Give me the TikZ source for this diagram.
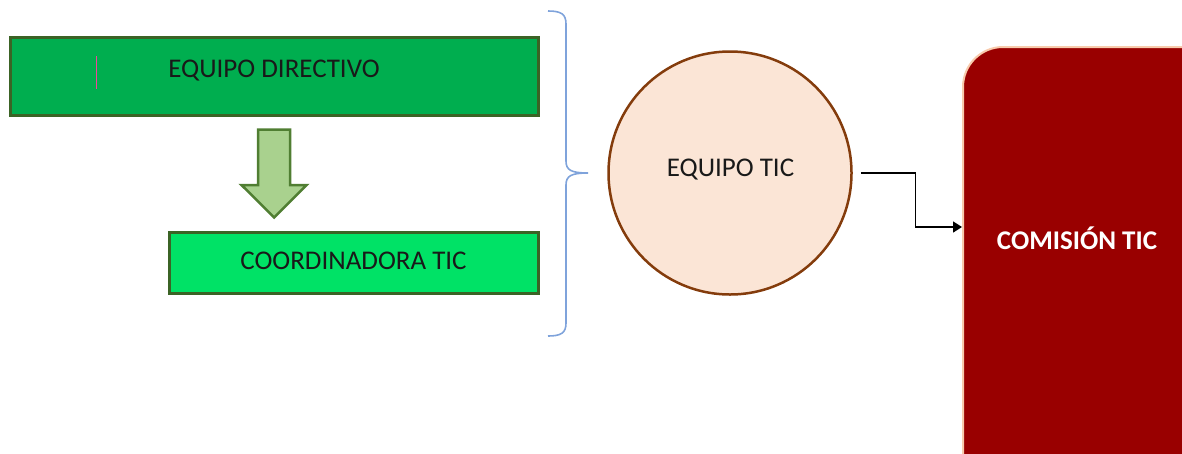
\documentclass[tikz,border=0pt]{standalone}
\usepackage{fontspec}
\setmainfont{Carlito}
\definecolor{gdark}{HTML}{00AE4F}
\definecolor{glight}{HTML}{00E266}
\definecolor{gborder}{HTML}{3B6325}
\definecolor{arrfill}{HTML}{A9D18E}
\definecolor{arrborder}{HTML}{507E32}
\definecolor{circfill}{HTML}{FBE5D6}
\definecolor{circborder}{HTML}{843C0C}
\definecolor{comred}{HTML}{990000}
\definecolor{comborder}{HTML}{F8CBAD}
\definecolor{bracecol}{HTML}{7FA3DB}
\definecolor{pinkmark}{HTML}{F0459A}
\tikzset{
  box/.style={draw=gborder, line width=3pt, inner sep=0pt},
  lbl/.style={anchor=base, inner sep=0pt, text=black!90, font=\fontsize{27}{32}\selectfont},
  conn/.style={draw=black!75, line width=1.5pt, -{Triangle[length=9pt,width=11pt]}, black},
}
\usetikzlibrary{arrows.meta}
\begin{document}
\begin{tikzpicture}[x=1pt,y=-1pt]
\useasboundingbox (0,0) rectangle (1182,453);
% boxes
\node[box, fill=gdark, minimum width=528pt, minimum height=78pt] (dir) at (274,76) {};
\node[lbl] (dirt) at (274,77) {EQUIPO DIRECTIVO};
\draw[pinkmark, line width=1.5pt] (96.5,56) -- (96.5,89);
\node[box, fill=glight, minimum width=369pt, minimum height=61pt] (coord) at (353.5,262.5) {};
\node[lbl] (coordt) at (353.5,269) {COORDINADORA TIC};
% block arrow
\draw[fill=arrfill, draw=arrborder, line width=2.5pt, line join=miter]
  (258,129.5) -- (290,129.5) -- (290,185) -- (306.5,185) -- (274.2,217.5)
  -- (241.5,185) -- (258,185) -- cycle;
% brace
\draw[bracecol, line width=1.6pt]
  (548,11) .. controls (561,11) and (566,14) .. (566,24) -- (566,161)
  .. controls (566,170) and (571,173) .. (588,173)
  .. controls (571,173) and (566,176) .. (566,185) -- (566,323)
  .. controls (566,333) and (561,336) .. (548,336);
% circle
\node[circle, draw=circborder, fill=circfill, line width=2.5pt, minimum size=243pt, inner sep=0pt] (tic) at (730,173) {};
\node[lbl] (tict) at (730.5,176) {EQUIPO TIC};
% comision
\node[draw=comborder, fill=comred, line width=2pt, rounded corners=40pt, minimum width=260pt, minimum height=480pt, inner sep=0pt] (com) at (1093,287) {};
\node[lbl, text=white, font=\fontsize{27}{32}\selectfont\bfseries] (comt) at (1077,249) {COMISIÓN TIC};
% connector
\draw[conn] ([xshift=8pt]tic.east) -- ++(54.5,0) |- (com.west |- 0,227);
\end{tikzpicture}
\end{document}
